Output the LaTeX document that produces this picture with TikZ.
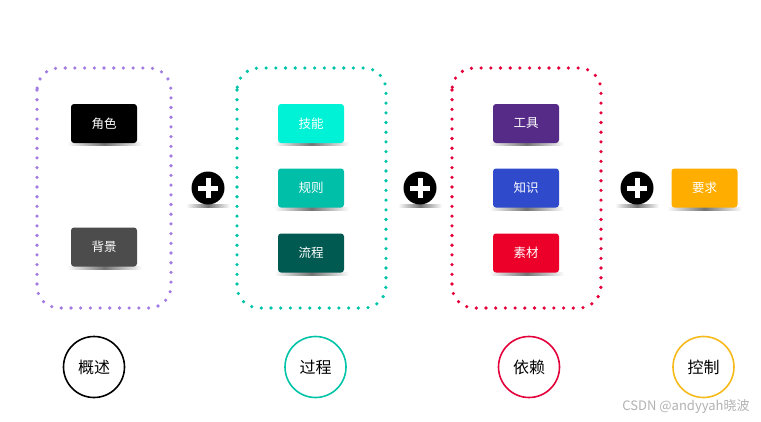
\documentclass[tikz,border=0pt]{standalone}
\usepackage{fontspec}
\setmainfont{Noto Sans CJK SC}
\usepackage{tikz}

\definecolor{lavender}{HTML}{A27BE3}
\definecolor{teal1}{HTML}{00C4A8}
\definecolor{crimson1}{HTML}{E4003A}
\definecolor{aqua1}{HTML}{00F2D6}
\definecolor{teal2}{HTML}{00BFA9}
\definecolor{teal3}{HTML}{005A51}
\definecolor{grape}{HTML}{552B87}
\definecolor{royal}{HTML}{2F4BCC}
\definecolor{scarlet}{HTML}{EC0029}
\definecolor{amber1}{HTML}{FFAE00}
\definecolor{amber2}{HTML}{F6BA1A}

\tikzset{
    tag/.style={fill=#1, rounded corners=3pt, minimum width=66pt, minimum height=39pt,
        text=white, font=\fontsize{12.5}{14}\selectfont},
    group/.style={draw=#1, rounded corners=22pt, line width=3.6pt, line cap=round,
        dash pattern=on 0pt off 9.7pt},
    topic/.style={draw=#1, circle, minimum size=61pt, line width=1.6pt,
        font=\fontsize{16}{18}\selectfont},
    plus/.style={circle, fill=black, minimum size=33pt, inner sep=0pt},
    tagshadow/.style={left color=white, right color=white, middle color=black!55},
}

\begin{document}
\begin{tikzpicture}[x=1pt, y=-1pt]
        \useasboundingbox[fill=white] (0, 0) rectangle (761, 421);

        % dotted frames
        \draw[group=lavender] (37, 68) rectangle (171, 308);
        \draw[group=teal1] (237, 68) rectangle (386, 308);
        \draw[group=crimson1] (452, 68) rectangle (601, 308);

        % shadows under the tags
        \foreach \y in {143, 208, 273} {
            \shade[tagshadow] (274, \y - 1) rectangle (349, \y + 2);
            \shade[tagshadow] (489, \y - 1) rectangle (564, \y + 2);
        }
        \shade[tagshadow] (67, 142) rectangle (142, 145);
        \shade[tagshadow] (67, 266) rectangle (142, 269);
        \shade[tagshadow] (667, 207) rectangle (742, 210);

        \node[tag=black] (role) at (104, 123.5) {角色};
        \node[tag=black!70] (background) at (104, 247) {背景};

        \node[tag=aqua1] (skill) at (311, 123.5) {技能};
        \node[tag=teal2] (rule) at (311, 188) {规则};
        \node[tag=teal3] (flow) at (311, 253) {流程};

        \node[tag=grape] (tool) at (526, 123.5) {工具};
        \node[tag=royal] (knowledge) at (526, 188) {知识};
        \node[tag=scarlet] (material) at (526, 253) {素材};

        \node[tag=amber1] (demand) at (704.5, 188) {要求};

        % plus signs
        \foreach \x/\n in {208/plusA, 420/plusB, 637/plusC} {
            \shade[tagshadow] (\x - 22, 204.5) rectangle (\x + 22, 207.5);
            \node[plus] (\n) at (\x, 188) {};
            \draw[white, line width=5pt] ([xshift=-10pt]\n.center) -- ([xshift=10pt]\n.center);
            \draw[white, line width=5pt] ([yshift=-10pt]\n.center) -- ([yshift=10pt]\n.center);
        }

        \node[topic=black] (overview) at (94, 367) {概述};
        \node[topic=teal1] (process) at (315.5, 367) {过程};
        \node[topic=crimson1] (depend) at (529, 367) {依赖};
        \node[topic=amber2] (control) at (703.5, 367) {控制};

        \node[text=black!30, font=\fontsize{13}{15}\selectfont] (mark) at (686, 407) {CSDN @andyyah晓波};

    \end{tikzpicture}
\end{document}
